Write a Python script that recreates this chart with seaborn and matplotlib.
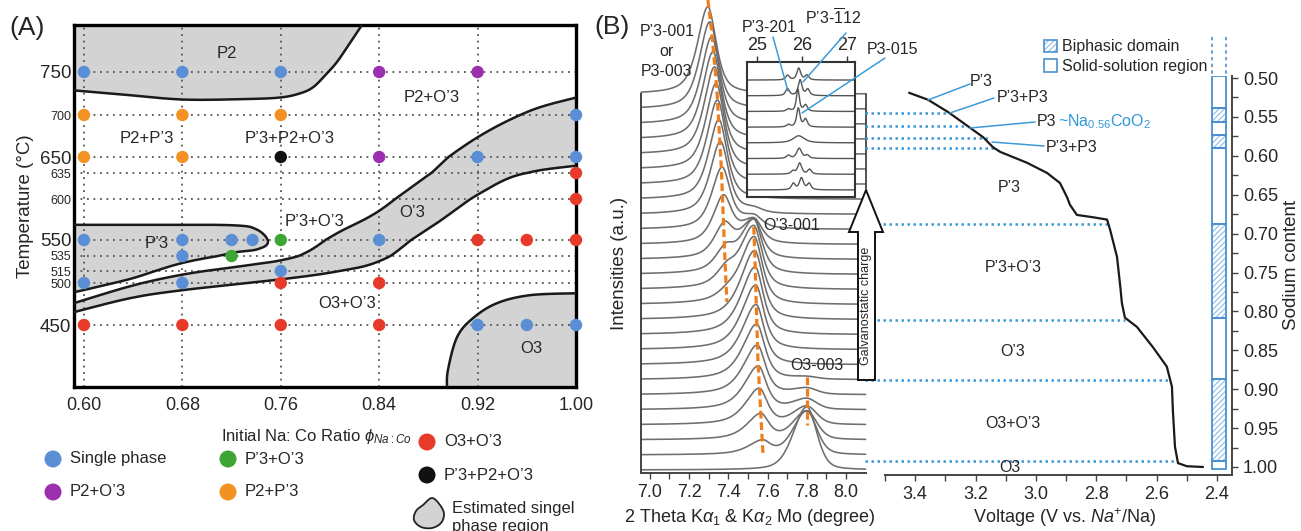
import numpy as np
import pandas as pd
import matplotlib
matplotlib.use("Agg")
import matplotlib.pyplot as plt
import seaborn as sns
from matplotlib.patches import Polygon, Rectangle

# ---------------- Panel A: synthesis phase diagram ----------------
phase_phi = [0.60, 0.68, 0.76, 0.84, 0.92,
             0.60, 0.68, 0.76, 1.00,
             0.60, 0.68, 0.76, 0.84, 0.92, 1.00,
             1.00, 1.00,
             0.60, 0.68, 0.72, 0.737, 0.76, 0.84, 0.92, 0.96, 1.00,
             0.68, 0.72,
             0.76,
             0.60, 0.68, 0.76, 0.84,
             0.60, 0.68, 0.76, 0.84, 0.92, 0.96, 1.00]
phase_T = [750] * 5 + [700] * 4 + [650] * 6 + [635, 600] + [550] * 9 + [535] * 2 + [515] + [500] * 4 + [450] * 7
phase_cat = ["Single phase", "Single phase", "Single phase", "P2+O’3", "P2+O’3",
             "P2+P’3", "P2+P’3", "P2+P’3", "Single phase",
             "P2+P’3", "P2+P’3", "P’3+P2+O’3", "P2+O’3", "Single phase", "Single phase",
             "O3+O’3", "O3+O’3",
             "Single phase", "Single phase", "Single phase", "Single phase", "P’3+O’3",
             "Single phase", "O3+O’3", "O3+O’3", "O3+O’3",
             "Single phase", "P’3+O’3",
             "Single phase",
             "Single phase", "Single phase", "O3+O’3", "O3+O’3",
             "O3+O’3", "O3+O’3", "O3+O’3", "O3+O’3", "Single phase", "Single phase", "Single phase"]
temp_ticks = [750, 700, 650, 635, 600, 550, 535, 515, 500, 450]
temp_big = [750, 650, 550, 450]
phi_ticks = [0.60, 0.68, 0.76, 0.84, 0.92, 1.00]
phi_grid = [0.60, 0.68, 0.76, 0.84, 0.92]
# the temperature axis of the original is not evenly spaced: relative position of each temperature
temp_axis_T = [376.3, 450, 500, 515, 535, 550, 600, 635, 650, 700, 750, 805.8]
temp_axis_pos = [0.0, 62, 104, 116, 131, 147, 188, 214, 230, 272, 315, 362]

# estimated single-phase region outlines (phi, T)
p2_edge = [(0.5919, 728.6), (0.63, 724.0), (0.68, 718.0), (0.73, 718.5), (0.7593, 720.3),
           (0.7756, 725.1), (0.7862, 732.2), (0.7960, 746.0), (0.8057, 761.9), (0.8160, 784.0), (0.826, 805.8)]
p3_edge = [(0.5919, 568.5), (0.65, 568.5), (0.7207, 568.0), (0.7407, 562.6), (0.7496, 548.3),
           (0.7407, 541.2), (0.7187, 537.5), (0.6797, 525.6), (0.6374, 505.0), (0.5919, 489.0)]
o3p_upper = [(0.5919, 476.0), (0.6374, 496.1), (0.6797, 510.4), (0.7268, 521.2), (0.7593, 529.0),
             (0.7837, 540.2), (0.8081, 560.2), (0.8407, 586.3), (0.8813, 633.7), (0.922, 675.3),
             (0.9626, 704.9), (1.0, 720.3)]
o3p_lower = [(0.5919, 465.3), (0.6374, 481.9), (0.6797, 491.4), (0.7593, 504.4), (0.8081, 515.1),
             (0.8407, 528.5), (0.8813, 564.9), (0.922, 607.7), (0.9545, 633.0), (1.0, 641.9)]
o3_edge = [(0.8951, 376.3), (0.8959, 396.5), (0.9033, 435.6), (0.9163, 458.2), (0.9358, 476.0),
           (0.9626, 485.5), (1.0, 487.8)]

# ---------------- Panel B: operando XRD (peak parameters per scan, bottom -> top) ----------------
o3_height = [4.2, 2.9, 1.9, 1.2, 0.7, 0.4, 0.15] + [0.0] * 19
o3p_center = [7.58, 7.574, 7.566, 7.558, 7.553, 7.548, 7.545, 7.542, 7.540, 7.537, 7.535, 7.532, 7.530,
              7.530, 7.530, 7.530, 7.530, 7.530] + [7.53] * 8
o3p_height = [0.0, 0.9, 1.7, 2.4, 2.9, 3.3, 3.7, 4.0, 4.3, 4.5, 4.6, 4.5, 4.2, 3.6, 2.6, 1.6, 0.8, 0.3] + [0.0] * 8
p3_center = [7.39] * 11 + [7.392, 7.389, 7.385, 7.380, 7.375, 7.368, 7.360, 7.352, 7.345, 7.338,
                           7.330, 7.322, 7.315, 7.306, 7.296]
p3_height = [0.0] * 11 + [0.35, 0.9, 1.3, 2.0, 3.0, 4.0, 4.8, 5.3, 5.6, 5.7, 5.8, 5.8, 5.8, 5.8, 5.8]
xrd_ticks = [7.0, 7.2, 7.4, 7.6, 7.8, 8.0]
xrd_minor = [7.1, 7.3, 7.5, 7.7, 7.9]
dash_p3 = ([7.296, 7.316, 7.342, 7.365, 7.383, 7.393], [31.25, 29.06, 25.27, 19.95, 13.96, 11.17])
dash_o3p = ([7.530, 7.536, 7.551, 7.577], [16.16, 13.96, 7.3, 1.0])
dash_o3 = ([7.80, 7.80], [6.18, 2.99])

# inset (bottom -> top)
ins_a_pos = [25.81, 25.80, 25.70, 25.75, 25.70, 25.70, 25.68, 25.68]
ins_a_h = [0.40, 0.20, 0.20, 0.00, 0.15, 0.15, 0.45, 0.30]
ins_b_pos = [25.99, 25.95, 25.94, 25.93, 25.92, 25.91, 25.96, 25.93]
ins_b_h = [0.75, 0.70, 0.65, 0.45, 1.20, 1.40, 1.00, 0.75]
ins_b_w = [0.055, 0.055, 0.065, 0.15, 0.045, 0.04, 0.05, 0.05]
ins_c_pos = [26.16, 26.17, 26.12, 26.10, 26.08, 26.08, 26.13, 26.11]
ins_c_h = [0.40, 0.30, 0.20, 0.00, 0.50, 0.40, 0.40, 0.30]

# ---------------- Panel B: charge curve ----------------
volt = [3.42, 3.357, 3.29, 3.218, 3.175, 3.142, 3.118, 3.029, 2.963, 2.920, 2.897, 2.887, 2.864, 2.810,
        2.764, 2.754, 2.731, 2.720, 2.715, 2.705, 2.665, 2.612, 2.566, 2.549, 2.546, 2.539, 2.529, 2.500, 2.446]
na = [0.519, 0.528, 0.544, 0.564, 0.576, 0.589, 0.595, 0.609, 0.622, 0.635, 0.653, 0.663, 0.676, 0.679,
      0.682, 0.695, 0.730, 0.769, 0.789, 0.808, 0.820, 0.846, 0.871, 0.897, 0.927, 0.974, 0.995, 0.999, 1.000]
na_ticks = [0.50, 0.55, 0.60, 0.65, 0.70, 0.75, 0.80, 0.85, 0.90, 0.95, 1.00]
na_minor = [0.525, 0.575, 0.625, 0.675, 0.725, 0.775, 0.825, 0.875, 0.925, 0.975]
v_ticks = [3.4, 3.2, 3.0, 2.8, 2.6, 2.4]
v_minor = [3.5, 3.3, 3.1, 2.9, 2.7, 2.5]
bar_bounds = [0.497, 0.539, 0.557, 0.573, 0.590, 0.688, 0.808, 0.887, 0.992, 1.003]
bar_biphasic = [False, True, False, True, False, True, False, True, False]
dot_na = [0.545, 0.562, 0.577, 0.590, 0.688, 0.811, 0.888, 0.992]
dot_end_v = [3.29, 3.234, 3.152, 3.129, 2.761, 2.705, 2.562, 2.532]

# ---------------- style ----------------
sns.set_theme(style="white")
plt.rcParams["font.family"] = ["Liberation Sans", "DejaVu Sans"]
plt.rcParams["mathtext.fontset"] = "custom"
plt.rcParams["mathtext.rm"] = "Liberation Sans"
plt.rcParams["mathtext.it"] = "Liberation Sans:italic"
plt.rcParams["mathtext.bf"] = "Liberation Sans:bold"
plt.rcParams["hatch.linewidth"] = 0.8

W, H = 1301, 531
fig = plt.figure(figsize=(W / 100, H / 100), dpi=100)
fig.patch.set_facecolor("white")


def rect(x0, y0, x1, y1):
    return [x0 / W, 1 - y1 / H, (x1 - x0) / W, (y1 - y0) / H]


def crom(pts, n=16, closed=False):
    P = np.asarray(pts, dtype=float)
    P = np.vstack([P[-1:], P, P[:2]]) if closed else np.vstack([P[:1], P, P[-1:]])
    t = np.linspace(0, 1, n, endpoint=False)[:, None]
    segs = []
    for i in range(1, len(P) - 2):
        p0, p1, p2, p3 = P[i - 1], P[i], P[i + 1], P[i + 2]
        segs.append(0.5 * (2 * p1 + (-p0 + p2) * t + (2 * p0 - 5 * p1 + 4 * p2 - p3) * t ** 2
                           + (-p0 + 3 * p1 - 3 * p2 + p3) * t ** 3))
    segs.append(P[-2][None, :])
    return np.vstack(segs)


def pv(x, c, h, wl, wr, eta):
    """asymmetric pseudo-Voigt peak (wl / wr are half widths at half maximum)"""
    w = np.where(x < c, wl, wr)
    u = ((x - c) / w) ** 2
    return h * (eta / (1.0 + u) + (1 - eta) * np.exp(-np.log(2) * u))


GRAY = "#d3d3d3"
BLUE_LN = "#3d9ad8"
palette = {"Single phase": "#5a8fd6", "P2+O’3": "#9b2fae", "P’3+O’3": "#3da534",
           "P2+P’3": "#f39223", "O3+O’3": "#e83a2b", "P’3+P2+O’3": "#111111"}

# ================= Panel A =================
axA = fig.add_axes(rect(74, 25, 576, 387))
_tT = np.array(temp_axis_T, dtype=float)
_tP = np.array(temp_axis_pos, dtype=float)
axA.set_yscale("function", functions=(lambda v: np.interp(v, _tT, _tP),
                                      lambda p: np.interp(p, _tP, _tT)))
axA.set_xlim(0.5919, 1.0)
axA.set_ylim(376.3, 805.8)
for t in temp_ticks:
    axA.axhline(t, ls=(0, (1, 2.6)), color="#555555", lw=1.3, zorder=2)
for p in phi_grid:
    axA.axvline(p, ls=(0, (1, 2.6)), color="#555555", lw=1.3, zorder=2)

c = crom(p2_edge)
axA.add_patch(Polygon(np.vstack([c, [(0.5919, 805.8)]]), closed=True, fc=GRAY, ec="none", zorder=1))
axA.plot(c[:, 0], c[:, 1], color="k", lw=1.8, zorder=3)
c = crom(p3_edge)
axA.add_patch(Polygon(c, closed=True, fc=GRAY, ec="none", zorder=1))
axA.plot(c[:, 0], c[:, 1], color="k", lw=1.8, zorder=3)
cu, cl = crom(o3p_upper), crom(o3p_lower)
axA.add_patch(Polygon(np.vstack([cu, cl[::-1]]), closed=True, fc=GRAY, ec="none", zorder=1))
axA.plot(cu[:, 0], cu[:, 1], color="k", lw=1.8, zorder=3)
axA.plot(cl[:, 0], cl[:, 1], color="k", lw=1.8, zorder=3)
c = crom(o3_edge)
axA.add_patch(Polygon(np.vstack([c, [(1.0, 376.3)]]), closed=True, fc=GRAY, ec="none", zorder=1))
axA.plot(c[:, 0], c[:, 1], color="k", lw=1.8, zorder=3)

dfA = pd.DataFrame({"phi": phase_phi, "T": phase_T, "phase": phase_cat})
sns.scatterplot(data=dfA, x="phi", y="T", hue="phase", palette=palette, s=80, edgecolor="none",
                legend=False, ax=axA, zorder=5, clip_on=False)
axA.set_xlabel("")
axA.set_ylabel("")
axA.set_yticks(temp_ticks)
axA.set_yticklabels([str(t) for t in temp_ticks])
axA.minorticks_off()
for lab, t in zip(axA.get_yticklabels(), temp_ticks):
    lab.set_fontsize(13.5 if t in temp_big else 9)
axA.set_xticks(phi_ticks)
axA.set_xticklabels([f"{p:.2f}" for p in phi_ticks], fontsize=13)
axA.tick_params(axis="y", length=0, pad=2)
axA.tick_params(axis="x", length=0, pad=7)
for s in axA.spines.values():
    s.set_linewidth(2.4)
    s.set_color("black")

area_labels = [("P2", 0.7163, 772.5), ("P2+O’3", 0.883, 720.3), ("P2+P’3", 0.6512, 671.7),
               ("P’3+P2+O’3", 0.7675, 671.7), ("P’3+O’3", 0.7878, 573.0), ("O’3", 0.8667, 583.9),
               ("P’3", 0.6593, 547.0), ("O3+O’3", 0.8138, 476.0), ("O3", 0.964, 422.6)]
for txt, x, y in area_labels:
    axA.text(x, y, txt, ha="center", va="center", fontsize=12, zorder=6)

# ================= Panel B: XRD =================
axX = fig.add_axes(rect(641, 94, 866, 473))
axX.set_xlim(6.955, 8.102)
axX.set_ylim(-0.2, 25.0)
xg = np.linspace(6.955, 8.10, 600)
frames = []
for k in range(26):
    inten = (k + pv(xg, p3_center[k], p3_height[k], 0.062, 0.05, 0.65)
             + pv(xg, o3p_center[k], o3p_height[k], 0.085, 0.05, 0.7)
             + pv(xg, 7.80, o3_height[k], 0.08, 0.06, 0.35))
    frames.append(pd.DataFrame({"deg": xg, "I": inten, "scan": k}))
dfX = pd.concat(frames)
sns.lineplot(data=dfX, x="deg", y="I", units="scan", estimator=None, sort=False, color="#6e6e6e",
             lw=1.15, ax=axX, legend=False)
for ln in axX.lines:
    ln.set_clip_on(False)
for dx, dy in (dash_p3, dash_o3p, dash_o3):
    axX.plot(dx, dy, color="#f07d1c", lw=2.3, ls=(0, (2.4, 1.2)), clip_on=False, zorder=4)
axX.plot([8.102, 8.102], [18.6, 25.0], color="#444444", lw=1.3, clip_on=False)
axX.set_xlabel("")
axX.set_ylabel("")
axX.set_yticks([])
axX.set_xticks(xrd_ticks)
axX.set_xticklabels([f"{v:.1f}" for v in xrd_ticks], fontsize=13)
axX.set_xticks(xrd_minor, minor=True)
axX.tick_params(axis="x", which="both", direction="out", length=4, width=1, color="#444444", pad=4,
                bottom=True)
axX.spines["top"].set_visible(False)
axX.spines["right"].set_visible(False)
for s in ("left", "bottom"):
    axX.spines[s].set_linewidth(1.4)
    axX.spines[s].set_color("#444444")
axX.patch.set_alpha(0)

# inset
axI = fig.add_axes(rect(747, 62, 855, 197), zorder=3)
axI.set_facecolor("white")
axI.set_xlim(24.78, 27.18)
axI.set_ylim(-0.45, 8.15)
xi = np.linspace(24.78, 27.18, 500)
frames = []
for j in range(8):
    inten = (j + pv(xi, ins_a_pos[j], ins_a_h[j], 0.05, 0.05, 0.7)
             + pv(xi, ins_b_pos[j], ins_b_h[j], ins_b_w[j], ins_b_w[j], 0.7)
             + pv(xi, ins_c_pos[j], ins_c_h[j], 0.05, 0.05, 0.7))
    frames.append(pd.DataFrame({"deg": xi, "I": inten, "scan": j}))
dfI = pd.concat(frames)
sns.lineplot(data=dfI, x="deg", y="I", units="scan", estimator=None, sort=False, color="#555555",
             lw=1.0, ax=axI, legend=False)
axI.set_xlabel("")
axI.set_ylabel("")
axI.set_yticks([])
axI.xaxis.tick_top()
axI.set_xticks([25, 26, 27])
axI.set_xticklabels(["25", "26", "27"], fontsize=13)
axI.tick_params(axis="x", direction="out", length=4, width=1, color="#333333", pad=2, top=True)
for s in axI.spines.values():
    s.set_linewidth(1.5)
    s.set_color("#333333")

# ================= Panel B: voltage curve =================
axV = fig.add_axes(rect(885, 76, 1232, 475))
axV.set_xlim(3.5, 2.35)
axV.set_ylim(1.0103, 0.4974)
axV.patch.set_alpha(0)
for y, xe in zip(dot_na, dot_end_v):
    axV.plot([3.566, xe], [y, y], ls=(0, (1, 1.4)), color=BLUE_LN, lw=1.8, clip_on=False, zorder=2)
sns.lineplot(x=volt, y=na, sort=False, estimator=None, color="#1a1a1a", lw=1.6, ax=axV, zorder=3)
bx0, bx1 = 2.370, 2.4166
for y0, y1, bi in zip(bar_bounds[:-1], bar_bounds[1:], bar_biphasic):
    if bi:
        axV.add_patch(Rectangle((bx0, y0), bx1 - bx0, y1 - y0, fc="white", ec="#8dbbe6", lw=0,
                                hatch="//////", zorder=3))
    axV.add_patch(Rectangle((bx0, y0), bx1 - bx0, y1 - y0, fc="none", ec="#4a90d0", lw=1.3, zorder=4))
for bx in (bx0, bx1):
    axV.plot([bx, bx], [0.447, 0.497], ls=(0, (2, 2)), color="#4a90d0", lw=1.2, clip_on=False)
axV.set_xlabel("")
axV.set_ylabel("")
axV.yaxis.tick_right()
axV.set_yticks(na_ticks)
axV.set_yticklabels([f"{v:.2f}" for v in na_ticks], fontsize=13)
axV.set_yticks(na_minor, minor=True)
axV.set_xticks(v_ticks)
axV.set_xticklabels([f"{v:.1f}" for v in v_ticks], fontsize=13)
axV.set_xticks(v_minor, minor=True)
axV.tick_params(which="both", direction="out", length=4, width=1, color="#444444", pad=4,
                bottom=True, right=True, left=False)
axV.spines["top"].set_visible(False)
axV.spines["left"].set_visible(False)
for s in ("right", "bottom"):
    axV.spines[s].set_linewidth(1.4)
    axV.spines[s].set_color("#444444")

# ================= overlay (labels, legends, arrow) =================
ov = fig.add_axes([0, 0, 1, 1], zorder=10)
ov.set_xlim(0, W)
ov.set_ylim(H, 0)
ov.axis("off")

ov.text(27, 28, "(A)", fontsize=19, ha="center", va="center")
ov.text(612, 27, "(B)", fontsize=19, ha="center", va="center")
ov.text(25, 206, "Temperature (°C)", fontsize=13.5, rotation=90, ha="center", va="center")
ov.text(316, 437, r"Initial Na: Co Ratio $\phi_{Na:Co}$", fontsize=12, ha="center", va="center")

leg = [(53, 459, "Single phase"), (53, 492, "P2+O’3"), (228, 459, "P’3+O’3"),
       (228, 492, "P2+P’3"), (427, 442, "O3+O’3"), (427, 475, "P’3+P2+O’3")]
for x, y, lab in leg:
    ov.scatter([x], [y], s=150, color=palette[lab], edgecolor="none")
    ov.text(x + 17, y, lab, fontsize=12, ha="left", va="center")
blob = crom([(432, 498), (440, 505), (444, 514), (441, 523), (432, 528), (421, 527), (414, 520),
             (416, 511), (423, 505)], closed=True)
ov.add_patch(Polygon(blob, closed=True, fc=GRAY, ec="#222222", lw=1.3))
ov.text(452, 508, "Estimated singel", fontsize=12, ha="left", va="center")
ov.text(452, 526, "phase region", fontsize=12, ha="left", va="center")

ov.text(620, 263, "Intensities (a.u.)", fontsize=13.5, rotation=90, ha="center", va="center")
ov.text(750, 518, r"2 Theta K$\alpha_{1}$ & K$\alpha_{2}$ Mo (degree)", fontsize=13, ha="center", va="center")
ov.text(1065, 518, r"Voltage (V vs. $\mathit{Na}^{+}$/Na)", fontsize=13, ha="center", va="center")
ov.text(1292, 265, "Sodium content", fontsize=13.5, rotation=90, ha="center", va="center")

for txt, y in (("P’3-001", 32), ("or", 52), ("P3-003", 72)):
    ov.text(667, y, txt, fontsize=11.5, ha="center", va="center")
ov.text(792, 226, "O’3-001", fontsize=11.5, ha="center", va="center")
ov.text(817, 365, "O3-003", fontsize=11.5, ha="center", va="center")
ov.text(769, 28, "P’3-201", fontsize=11.5, ha="center", va="center")
ov.text(833, 18, r"P’3-$\overline{1}$12", fontsize=11.5, ha="center", va="center")
ov.text(892, 50, "P3-015", fontsize=11.5, ha="center", va="center")
for (x0, y0), (x1, y1) in (((773, 37), (788, 91)), ((846, 33), (803, 82)), ((885, 58), (802, 113))):
    ov.plot([x0, x1], [y0, y1], color=BLUE_LN, lw=1.1)

arrow = [(858, 380), (858, 232), (849, 232), (866, 190), (883, 232), (875, 232), (875, 380)]
ov.add_patch(Polygon(arrow, closed=True, fc="white", ec="#111111", lw=1.4))
ov.text(866.5, 306, "Galvanostatic charge", fontsize=9, rotation=90, ha="center", va="center")

ov.add_patch(Rectangle((1044, 40), 13, 12, fc="white", ec="#8dbbe6", lw=0, hatch="//////"))
ov.add_patch(Rectangle((1044, 40), 13, 12, fc="none", ec="#4a90d0", lw=1.2))
ov.add_patch(Rectangle((1044, 59), 13, 13, fc="white", ec="#4a90d0", lw=1.2))
ov.text(1062, 46, "Biphasic domain", fontsize=11.5, ha="left", va="center")
ov.text(1062, 66, "Solid-solution region", fontsize=11.5, ha="left", va="center")

for txt, x, y in (("P’3", 970, 82), ("P’3+P3", 997, 98), ("P3", 1037, 122), ("P’3+P3", 1046, 147)):
    ov.text(x, y, txt, fontsize=11.5, ha="left", va="center")
ov.text(1058, 122, r"~Na$_{0.56}$CoO$_{2}$", fontsize=11.5, ha="left", va="center", color="#2f97d8")
for (x0, y0), (x1, y1) in (((928, 100), (970, 84)), ((950, 113), (994, 98)),
                           ((970, 128), (1035, 122)), ((992, 142), (1044, 146))):
    ov.plot([x0, x1], [y0, y1], color=BLUE_LN, lw=1.1)
for txt, x, y in (("P’3", 1009, 187), ("P’3+O’3", 1013, 268), ("O’3", 1013, 352),
                  ("O3+O’3", 1013, 423), ("O3", 1010, 468)):
    ov.text(x, y, txt, fontsize=11.5, ha="center", va="center")

fig.savefig("out.png", dpi=100, facecolor="white")
